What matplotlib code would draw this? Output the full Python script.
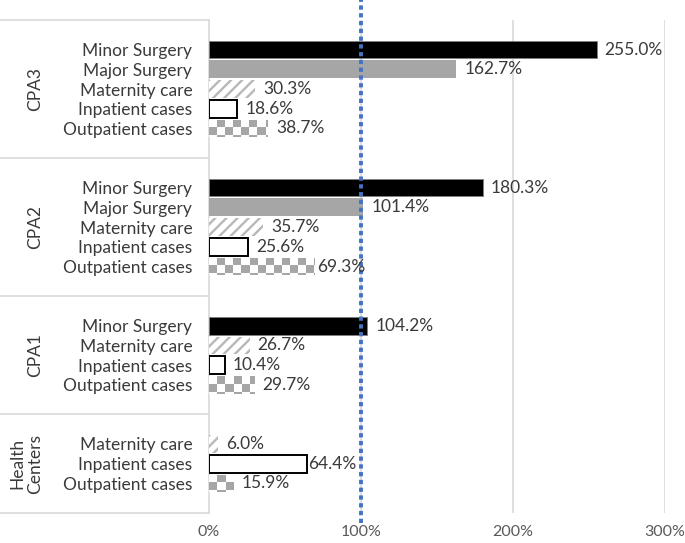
import numpy as np
import matplotlib
matplotlib.use("Agg")
import matplotlib.pyplot as plt
import matplotlib.transforms as mtransforms

# data
groups = ["CPA3", "CPA2", "CPA1", "Health\nCenters"]
cpa3_cats = ["Minor Surgery", "Major Surgery", "Maternity care", "Inpatient cases", "Outpatient cases"]
cpa3_vals = [255.0, 162.7, 30.3, 18.6, 38.7]
cpa2_cats = ["Minor Surgery", "Major Surgery", "Maternity care", "Inpatient cases", "Outpatient cases"]
cpa2_vals = [180.3, 101.4, 35.7, 25.6, 69.3]
cpa1_cats = ["Minor Surgery", "Maternity care", "Inpatient cases", "Outpatient cases"]
cpa1_vals = [104.2, 26.7, 10.4, 29.7]
hc_cats = ["Maternity care", "Inpatient cases", "Outpatient cases"]
hc_vals = [6.0, 64.4, 15.9]
ref_line = 100
xticks = [0, 100, 200, 300]

group_cats = [cpa3_cats, cpa2_cats, cpa1_cats, hc_cats]
group_vals = [cpa3_vals, cpa2_vals, cpa1_vals, hc_vals]

plt.rcParams['font.family'] = ['Lato', 'DejaVu Sans']
plt.rcParams['hatch.linewidth'] = 1.7
FS = 12.5
TXT = '#3a3a3a'
GRID = '#d9d9d9'

fig = plt.figure(figsize=(6.85, 5.43), dpi=100)
ax = fig.add_axes([209 / 685, 30 / 543, 456 / 685, 493 / 543])

# slot layout: one empty slot before and after each group
ypos, ylabels, yvals, bounds, centers = [], [], [], [0], []
slot = 0
for cats, vals in zip(group_cats, group_vals):
    start = slot
    slot += 1
    for c, v in zip(cats, vals):
        ypos.append(slot + 0.5)
        ylabels.append(c)
        yvals.append(v)
        slot += 1
    slot += 1
    bounds.append(slot)
    centers.append((start + slot) / 2)

H = 0.9
checker_w = 5.3     # % per checker cell
checker_h = 0.41    # slot units per checker cell

for y, c, v in zip(ypos, ylabels, yvals):
    if c == "Minor Surgery":
        ax.barh(y, v, height=H, color='black', edgecolor='#7f7f7f', linewidth=0.6, zorder=3)
    elif c == "Major Surgery":
        ax.barh(y, v, height=H, color='#a6a6a6', linewidth=0, zorder=3)
    elif c == "Maternity care":
        ax.barh(y, v, height=H, color='white', edgecolor='#b8b8b8', hatch='///', linewidth=0, zorder=3)
    elif c == "Inpatient cases":
        ax.barh(y, v, height=H, color='white', edgecolor='black', linewidth=1.4, zorder=3)
    else:
        bar = ax.barh(y, v, height=H, color='none', linewidth=0, zorder=3)[0]
        ncol = int(np.ceil(v / checker_w)) + 1
        nrow = 3
        pat = (np.add.outer(np.arange(nrow), np.arange(ncol)) % 2).astype(float)
        rgb = np.ones((nrow, ncol, 3))
        rgb[pat == 1] = 166 / 255
        top = y - H / 2
        im = ax.imshow(rgb, extent=(0, ncol * checker_w, top + nrow * checker_h, top),
                       origin='upper', interpolation='nearest', aspect='auto', zorder=3)
        im.set_clip_path(bar)

# value labels (a couple were nudged left in the original)
nudge = {64.4: -7, 69.3: -5}
for y, v in zip(ypos, yvals):
    ax.annotate(f"{v:.1f}%", (v, y), xytext=(8 + nudge.get(v, 0), 0), textcoords='offset pixels',
                va='center', ha='left', fontsize=FS, color=TXT, zorder=5)

ax.set_xlim(0, 300)
ax.set_ylim(bounds[-1], 0)
ax.set_xticks(xticks, [f"{t}%" for t in xticks])
ax.set_yticks(ypos, ylabels)
ax.tick_params(axis='y', length=0, pad=12, labelsize=FS, labelcolor=TXT)
ax.tick_params(axis='x', length=0, pad=9, labelsize=11.5, labelcolor='#595959')
for x in xticks[1:]:
    ax.axvline(x, color=GRID, lw=1.2, zorder=1)
for s in ['top', 'right', 'bottom']:
    ax.spines[s].set_visible(False)
ax.spines['left'].set_color(GRID)
ax.spines['left'].set_linewidth(1.2)

# reference line at 100%
trans = mtransforms.blended_transform_factory(ax.transData, ax.transAxes)
ax.plot([ref_line, ref_line], [-0.02, 1.041], transform=trans, clip_on=False,
        color='#4472c4', lw=2.8, linestyle=(0, (1.1, 0.9)), zorder=4)

# category table on the left
ltrans = mtransforms.blended_transform_factory(ax.transAxes, ax.transData)
for b in bounds:
    ax.plot([-209 / 456, 0], [b, b], transform=ltrans, clip_on=False, color=GRID, lw=1.2)
for g, cy in zip(groups, centers):
    ax.text(-166 / 456, cy, g, transform=ltrans, rotation=90, ha='right', va='center',
            multialignment='center', fontsize=FS, color=TXT, linespacing=1.1)

fig.savefig("out.png", dpi=100)
